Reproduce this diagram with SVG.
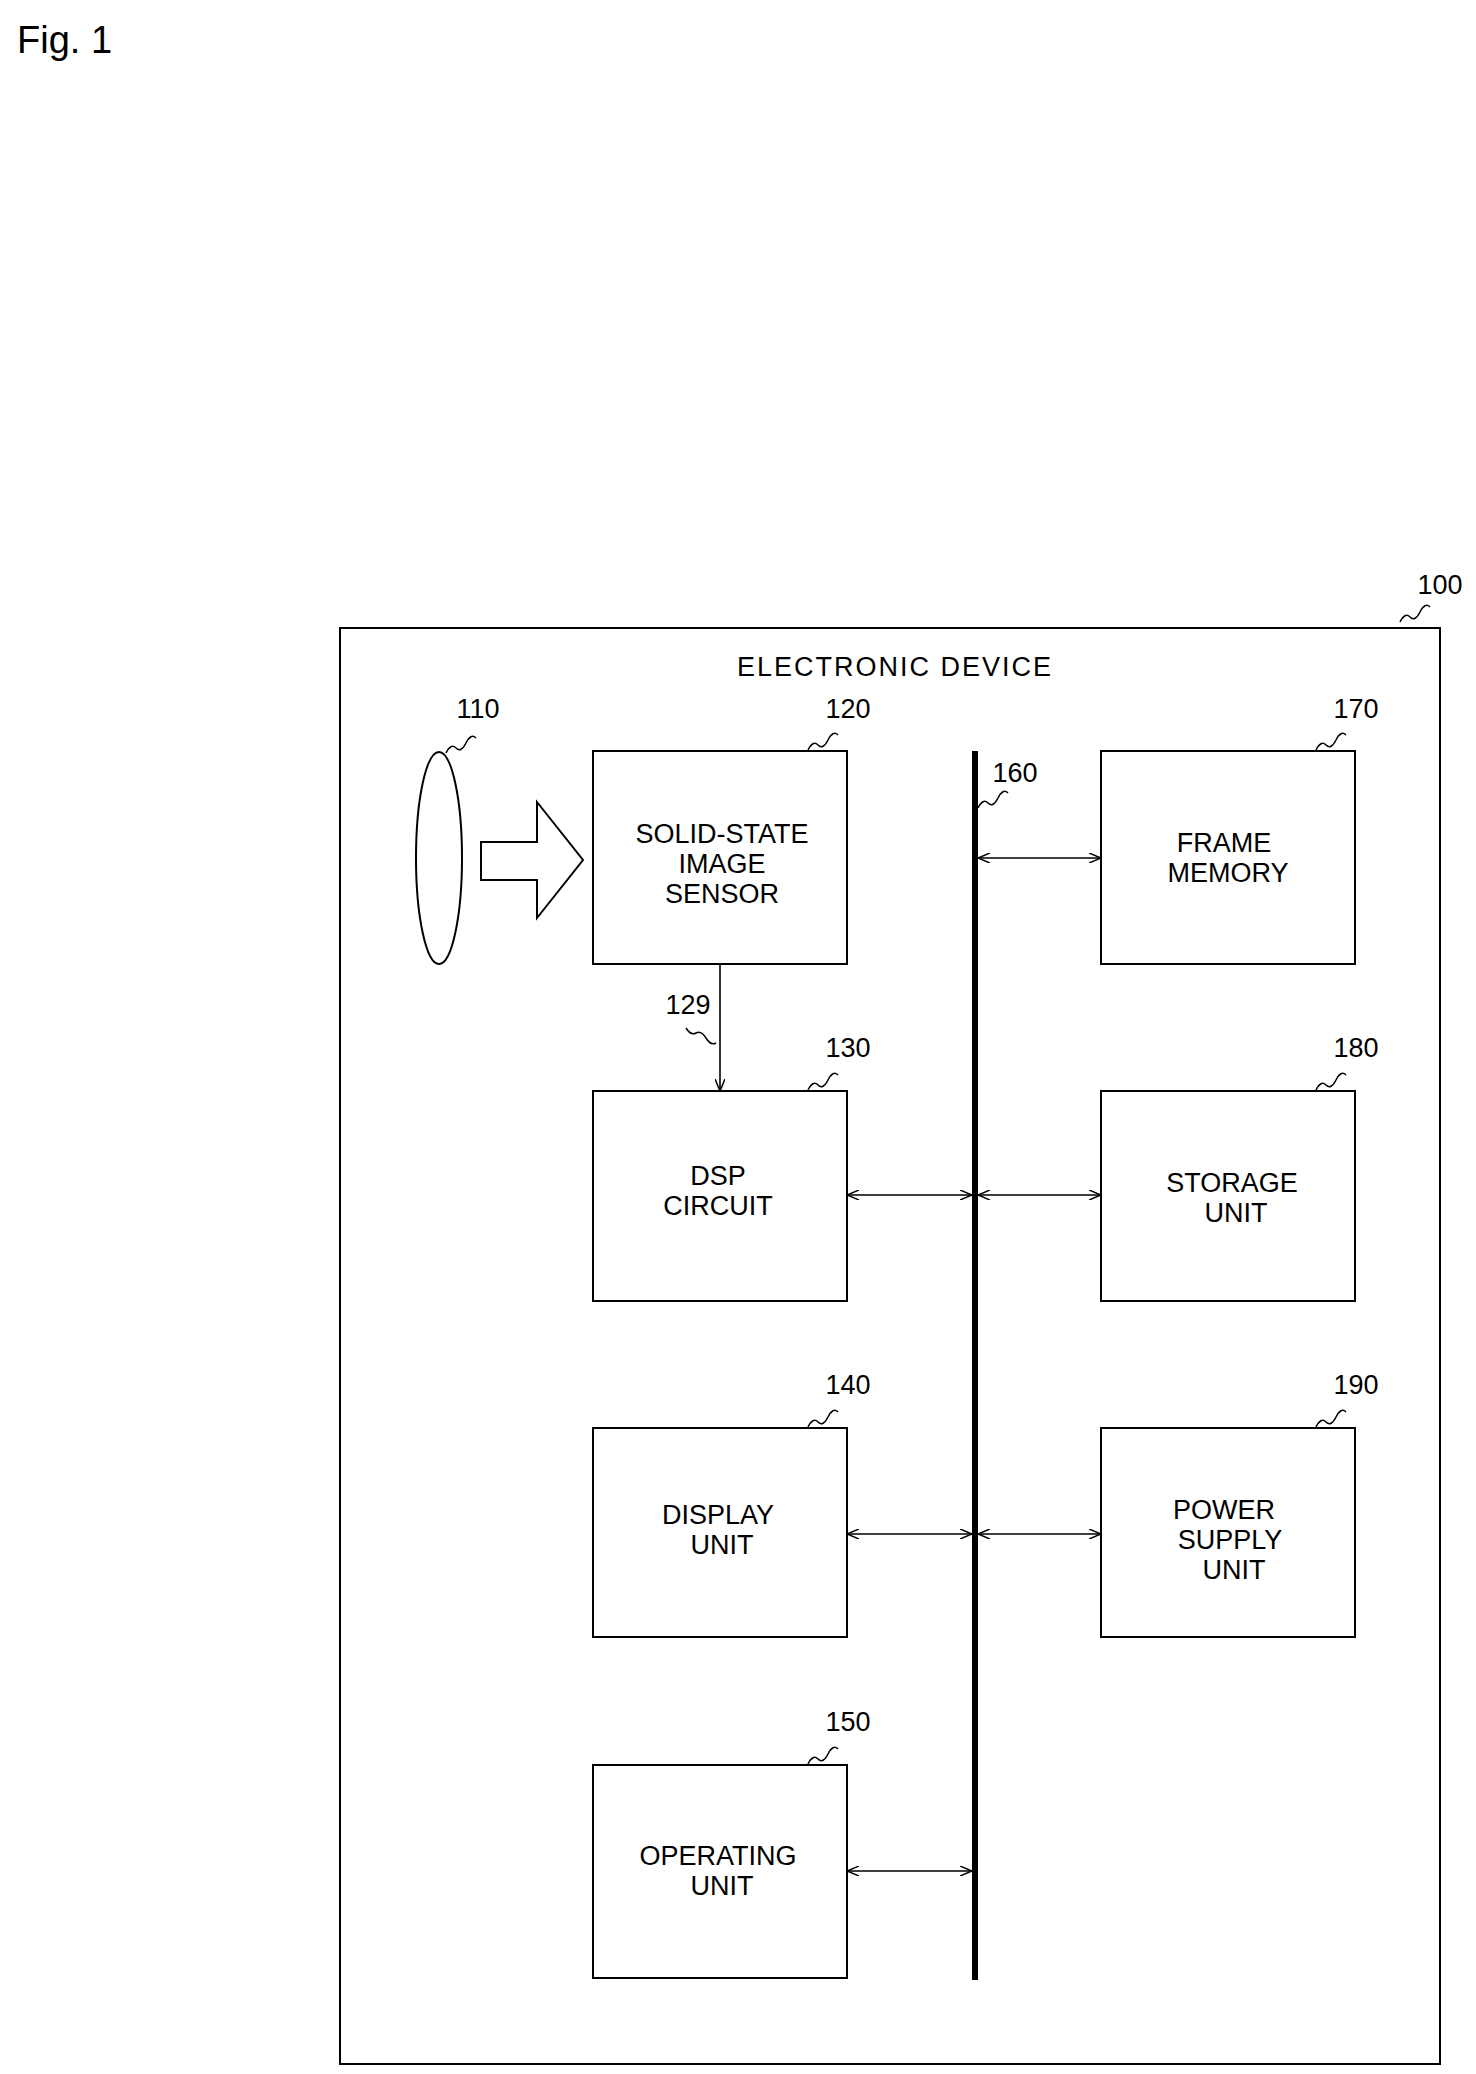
<svg xmlns="http://www.w3.org/2000/svg" width="1476" height="2074" viewBox="0 0 1476 2074">
<style>
text{font-family:"Liberation Sans",Arial,sans-serif;font-size:27px;fill:#000}
.c{text-anchor:middle}
.b{fill:#fff;stroke:#000;stroke-width:2}
.l{stroke:#000;stroke-width:1.6;fill:none}
.s{stroke:#000;stroke-width:1.5;fill:none}
</style>
<defs>
<marker id="a" viewBox="0 0 12 10" refX="12" refY="5" markerWidth="12" markerHeight="10" markerUnits="userSpaceOnUse" orient="auto-start-reverse"><path d="M0,0L12,5L0,10" fill="none" stroke="#000" stroke-width="1.5"/></marker>
</defs>
<rect width="1476" height="2074" fill="#fff"/>
<text x="17" y="53" style="font-size:38px">Fig. 1</text>
<g id="n100"><rect class="b" x="340" y="628" width="1100" height="1436"/>
<text class="c" x="895" y="676" style="letter-spacing:2px">ELECTRONIC DEVICE</text>
<text class="c" x="1440" y="594">100</text><path class="s" d="M1400,622 q5,-10 10,-5 t10,-5 t10,-5"/></g>
<g id="n110"><ellipse class="b" cx="439" cy="858" rx="23" ry="106"/>
<text class="c" x="478" y="718">110</text><path class="s" d="M446,753 q5,-10 10,-5 t10,-5 t10,-5"/>
<path class="b" d="M481,842H537V802L583,860L537,918V880H481Z"/></g>
<g id="n120"><rect class="b" x="593" y="751" width="254" height="213"/>
<text class="c" x="722" y="843">SOLID-STATE</text><text class="c" x="722" y="873">IMAGE</text><text class="c" x="722" y="903">SENSOR</text>
<text class="c" x="848" y="718">120</text><path class="s" d="M808,750 q5,-10 10,-5 t10,-5 t10,-5"/></g>
<g id="n130"><rect class="b" x="593" y="1091" width="254" height="210"/>
<text class="c" x="718" y="1185">DSP</text><text class="c" x="718" y="1215">CIRCUIT</text>
<text class="c" x="848" y="1057">130</text><path class="s" d="M808,1090 q5,-10 10,-5 t10,-5 t10,-5"/></g>
<g id="n140"><rect class="b" x="593" y="1428" width="254" height="209"/>
<text class="c" x="718" y="1524">DISPLAY</text><text class="c" x="722" y="1554">UNIT</text>
<text class="c" x="848" y="1394">140</text><path class="s" d="M808,1427 q5,-10 10,-5 t10,-5 t10,-5"/></g>
<g id="n150"><rect class="b" x="593" y="1765" width="254" height="213"/>
<text class="c" x="718" y="1865">OPERATING</text><text class="c" x="722" y="1895">UNIT</text>
<text class="c" x="848" y="1731">150</text><path class="s" d="M808,1764 q5,-10 10,-5 t10,-5 t10,-5"/></g>
<g id="n170"><rect class="b" x="1101" y="751" width="254" height="213"/>
<text class="c" x="1224" y="852">FRAME</text><text class="c" x="1228" y="882">MEMORY</text>
<text class="c" x="1356" y="718">170</text><path class="s" d="M1316,750 q5,-10 10,-5 t10,-5 t10,-5"/></g>
<g id="n180"><rect class="b" x="1101" y="1091" width="254" height="210"/>
<text class="c" x="1232" y="1192">STORAGE</text><text class="c" x="1236" y="1222">UNIT</text>
<text class="c" x="1356" y="1057">180</text><path class="s" d="M1316,1090 q5,-10 10,-5 t10,-5 t10,-5"/></g>
<g id="n190"><rect class="b" x="1101" y="1428" width="254" height="209"/>
<text class="c" x="1224" y="1519">POWER</text><text class="c" x="1230" y="1549">SUPPLY</text><text class="c" x="1234" y="1579">UNIT</text>
<text class="c" x="1356" y="1394">190</text><path class="s" d="M1316,1427 q5,-10 10,-5 t10,-5 t10,-5"/></g>
<g id="n160"><line x1="975" y1="751" x2="975" y2="1980" stroke="#000" stroke-width="6"/>
<text class="c" x="1015" y="782">160</text><path class="s" d="M978,808 q5,-10 10,-5 t10,-5 t10,-5"/></g>
<g id="connectors">
<line class="l" x1="720" y1="964" x2="720" y2="1091" marker-end="url(#a)"/>
<text class="c" x="688" y="1014">129</text><path class="s" d="M686,1028 q5,8 10,5 t10,5 t10,5"/>
<line class="l" x1="978" y1="858" x2="1101" y2="858" marker-start="url(#a)" marker-end="url(#a)"/>
<line class="l" x1="847" y1="1195" x2="972" y2="1195" marker-start="url(#a)" marker-end="url(#a)"/>
<line class="l" x1="978" y1="1195" x2="1101" y2="1195" marker-start="url(#a)" marker-end="url(#a)"/>
<line class="l" x1="847" y1="1534" x2="972" y2="1534" marker-start="url(#a)" marker-end="url(#a)"/>
<line class="l" x1="978" y1="1534" x2="1101" y2="1534" marker-start="url(#a)" marker-end="url(#a)"/>
<line class="l" x1="847" y1="1871" x2="972" y2="1871" marker-start="url(#a)" marker-end="url(#a)"/>
</g>
</svg>
